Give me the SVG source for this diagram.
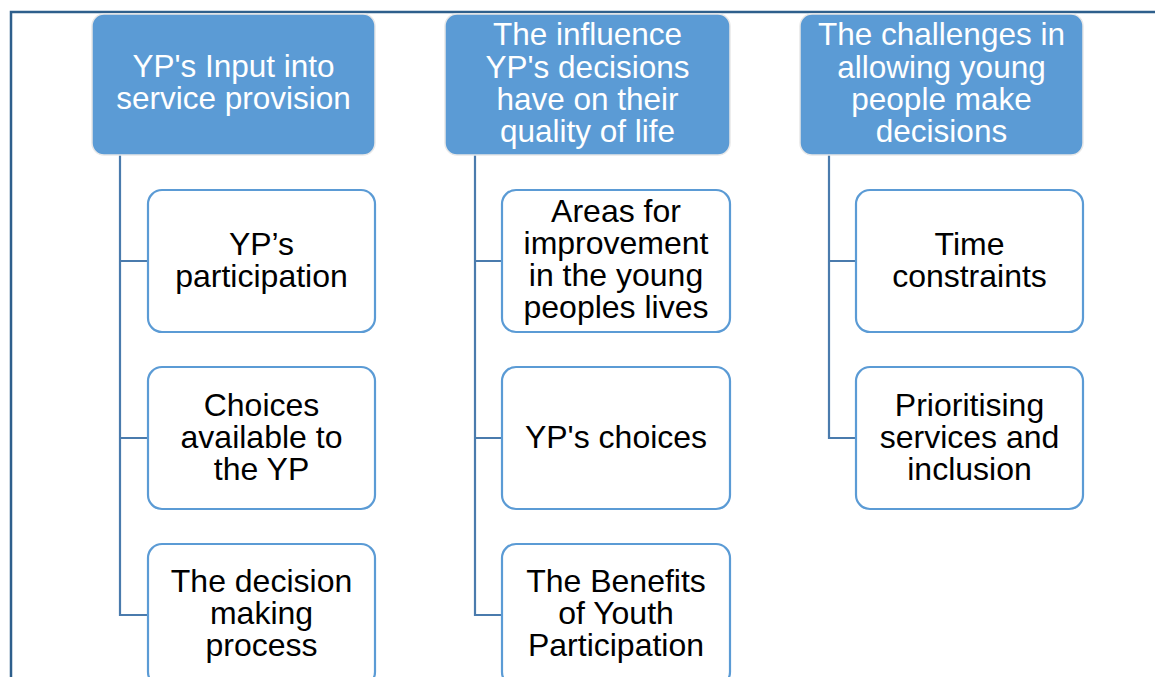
<svg xmlns="http://www.w3.org/2000/svg" width="1155" height="677" viewBox="0 0 1155 677">
<style>
.frame{fill:none;stroke:#2e5f8c;stroke-width:2.5}
.hdr{fill:#5b9bd5;stroke:#e8e8e8;stroke-width:1.5}
.box{fill:#ffffff;stroke:#5b9bd5;stroke-width:2.2}
.conn{fill:none;stroke:#4a7bad;stroke-width:2.2}
.ht{font-family:"Liberation Sans",Arial,sans-serif;font-size:31.5px;fill:#ffffff;text-anchor:middle}
.bt{font-family:"Liberation Sans",Arial,sans-serif;font-size:32px;fill:#000000;text-anchor:middle}
</style>
<rect width="1155" height="677" fill="#ffffff"/>
<path class="frame" d="M11,677 V12 H1155"/>
<g id="connectors">
<path class="conn" d="M120,155 V615 H148 M120,261 H148 M120,438 H148"/>
<path class="conn" d="M475,155 V615 H502 M475,261 H502 M475,438 H502"/>
<path class="conn" d="M829,155 V438 H856 M829,261 H856"/>
</g>
<g id="h1"><rect class="hdr" x="92" y="14" width="283" height="141" rx="12"/>
<text class="ht"><tspan x="233.5" y="76.5">YP's Input into</tspan><tspan x="233.5" y="108.5">service provision</tspan></text></g>
<g id="h2"><rect class="hdr" x="445" y="14" width="285" height="141" rx="12"/>
<text class="ht"><tspan x="587.5" y="45">The influence</tspan><tspan x="587.5" y="77.5">YP's decisions</tspan><tspan x="587.5" y="110">have on their</tspan><tspan x="587.5" y="142">quality of life</tspan></text></g>
<g id="h3"><rect class="hdr" x="800" y="14" width="283" height="141" rx="12"/>
<text class="ht"><tspan x="941.5" y="45">The challenges in</tspan><tspan x="941.5" y="77.5">allowing young</tspan><tspan x="941.5" y="110">people make</tspan><tspan x="941.5" y="142">decisions</tspan></text></g>
<g id="c1r1"><rect class="box" x="148" y="190" width="227" height="142" rx="14"/>
<text class="bt"><tspan x="261.5" y="255">YP’s</tspan><tspan x="261.5" y="287">participation</tspan></text></g>
<g id="c1r2"><rect class="box" x="148" y="367" width="227" height="142" rx="14"/>
<text class="bt"><tspan x="261.5" y="416">Choices</tspan><tspan x="261.5" y="448">available to</tspan><tspan x="261.5" y="480">the YP</tspan></text></g>
<g id="c1r3"><rect class="box" x="148" y="544" width="227" height="142" rx="14"/>
<text class="bt"><tspan x="261.5" y="592">The decision</tspan><tspan x="261.5" y="624">making</tspan><tspan x="261.5" y="656">process</tspan></text></g>
<g id="c2r1"><rect class="box" x="502" y="190" width="228" height="142" rx="14"/>
<text class="bt"><tspan x="616" y="222">Areas for</tspan><tspan x="616" y="254">improvement</tspan><tspan x="616" y="286">in the young</tspan><tspan x="616" y="317.5">peoples lives</tspan></text></g>
<g id="c2r2"><rect class="box" x="502" y="367" width="228" height="142" rx="14"/>
<text class="bt"><tspan x="616" y="448">YP's choices</tspan></text></g>
<g id="c2r3"><rect class="box" x="502" y="544" width="228" height="142" rx="14"/>
<text class="bt"><tspan x="616" y="592">The Benefits</tspan><tspan x="616" y="624">of Youth</tspan><tspan x="616" y="656">Participation</tspan></text></g>
<g id="c3r1"><rect class="box" x="856" y="190" width="227" height="142" rx="14"/>
<text class="bt"><tspan x="969.5" y="255">Time</tspan><tspan x="969.5" y="287">constraints</tspan></text></g>
<g id="c3r2"><rect class="box" x="856" y="367" width="227" height="142" rx="14"/>
<text class="bt"><tspan x="969.5" y="416">Prioritising</tspan><tspan x="969.5" y="448">services and</tspan><tspan x="969.5" y="480">inclusion</tspan></text></g>
</svg>
